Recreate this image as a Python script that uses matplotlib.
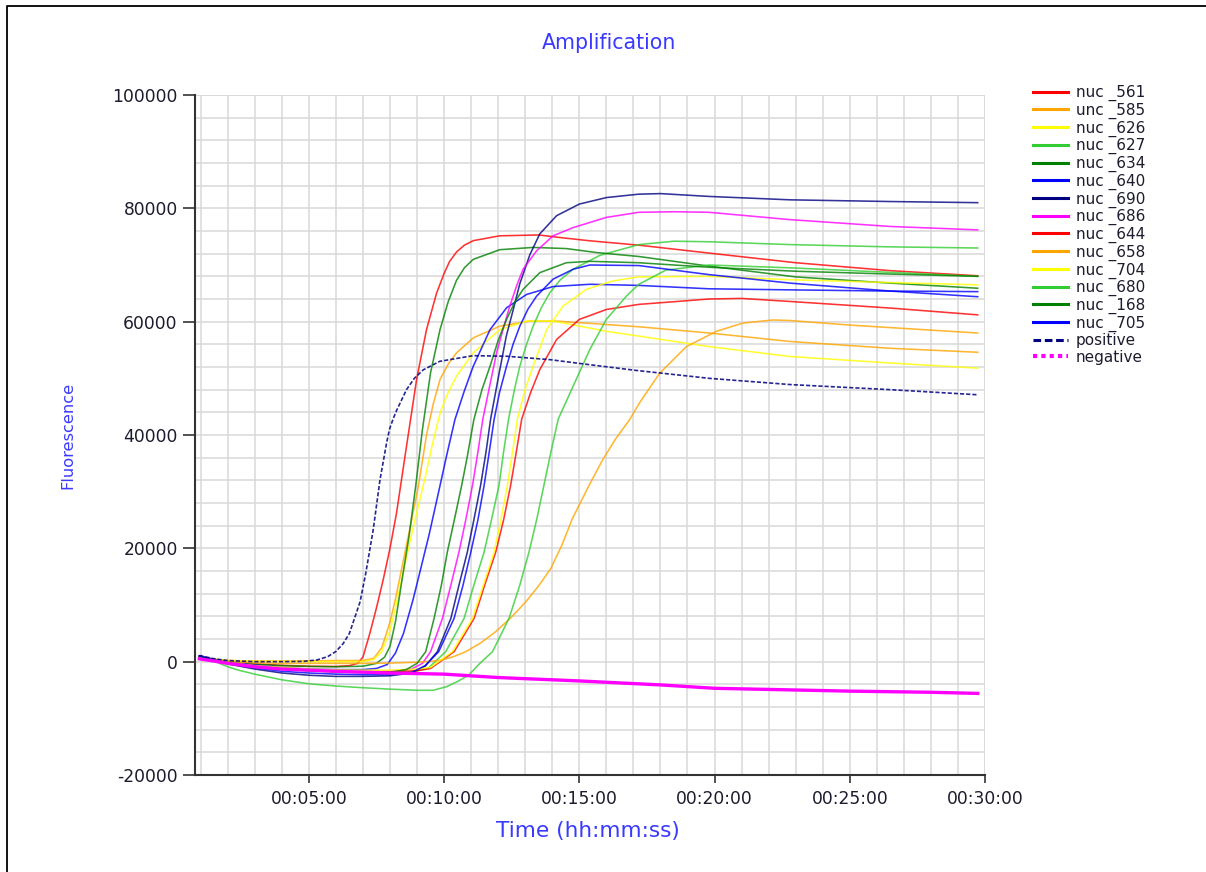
import matplotlib
matplotlib.use("Agg")
import matplotlib.pyplot as plt
from matplotlib.lines import Line2D
from matplotlib.ticker import MultipleLocator

plt.rcParams['font.family'] = ['DejaVu Sans']

# ---- data (time in minutes, fluorescence) ----
t_561 = [0.95, 1.5, 2, 3, 4, 5, 6, 6.5, 6.8, 7.0, 7.26, 7.5, 7.75, 8.0, 8.24, 8.61, 8.98, 9.35, 9.72, 10.0, 10.2, 10.46, 10.75, 11.08, 12.06, 13.5, 14.28, 15.39, 17.2, 19.8, 23.0, 26.5, 29.73]
v_561 = [900, 400, 50, -400, -650, -800, -850, -700, -300, 800, 5100, 9500, 14500, 20000, 26200, 38000, 49700, 58600, 65000, 68500, 70600, 72300, 73500, 74300, 75150, 75300, 74850, 74270, 73500, 72100, 70400, 69000, 68100]

t_585 = [0.95, 1.5, 2, 3, 4, 5, 6, 7, 7.4, 7.7, 8.0, 8.2, 8.5, 8.8, 9.05, 9.35, 9.6, 9.85, 10.15, 10.46, 11.08, 12.06, 13.17, 14.16, 15.39, 17.2, 19.8, 22.8, 26.5, 29.73]
v_585 = [800, 400, 200, 100, 100, 150, 200, 200, 600, 2500, 7000, 11000, 18000, 25000, 31000, 40000, 45500, 49800, 52500, 54500, 57150, 59200, 60100, 60100, 59700, 59100, 58000, 56500, 55300, 54600]

t_626 = [0.95, 1.5, 2, 3, 4, 5, 6, 7, 7.4, 7.7, 8.0, 8.2, 8.5, 8.8, 9.05, 9.3, 9.55, 9.85, 10.15, 10.46, 11.08, 12.06, 13.05, 14.03, 15.02, 16.0, 17.2, 19.8, 22.8, 26.5, 29.73]
v_626 = [800, 400, 200, 100, 50, 0, 0, 0, 400, 1800, 5500, 9500, 16000, 22500, 27500, 32500, 38000, 43900, 47500, 50400, 54500, 58600, 60100, 60100, 59200, 58300, 57450, 55600, 53850, 52700, 51800]

t_627 = [0.95, 1.5, 2, 3, 4, 5, 6, 7, 8, 8.8, 9.4, 10.06, 10.74, 11.1, 11.48, 11.75, 12.03, 12.2, 12.38, 12.6, 12.8, 13.05, 13.29, 13.6, 13.91, 14.3, 14.77, 15.76, 17.2, 18.5, 19.8, 22.8, 26.5, 29.73]
v_627 = [900, 300, -200, -900, -1300, -1600, -1800, -1950, -2000, -1800, -1200, 1760, 7640, 13500, 19350, 25000, 31100, 37000, 42700, 48000, 52150, 56000, 59200, 62500, 65100, 67400, 69250, 71700, 73600, 74200, 74100, 73600, 73200, 73000]

t_634 = [0.95, 1.5, 2, 3, 4, 5, 6, 7, 7.5, 7.8, 8.0, 8.2, 8.43, 8.7, 8.95, 9.2, 9.5, 9.85, 10.15, 10.46, 10.75, 11.08, 12.06, 13.29, 14.52, 15.63, 17.2, 19.8, 23.0, 26.5, 29.73]
v_634 = [900, 400, 0, -450, -700, -850, -900, -800, -300, 800, 2700, 7000, 14000, 22000, 31000, 41000, 51000, 58600, 63500, 67300, 69500, 71000, 72700, 73100, 72900, 72200, 71500, 69800, 67900, 66800, 65900]

t_640 = [0.95, 1.5, 2, 3, 4, 5, 6, 7, 7.5, 7.9, 8.2, 8.5, 8.85, 9.1, 9.45, 9.8, 10.1, 10.4, 10.75, 11.08, 11.7, 12.31, 13.05, 14.03, 15.39, 17.2, 19.8, 23.0, 26.5, 29.73]
v_640 = [1000, 400, 0, -600, -1000, -1300, -1400, -1400, -1200, -500, 1500, 5000, 10900, 15700, 22500, 30000, 36500, 42700, 47800, 52150, 58600, 62450, 64800, 66200, 66600, 66400, 65800, 65600, 65400, 65300]

t_690 = [0.95, 1.5, 2, 3, 4, 5, 6, 7, 8, 8.8, 9.3, 9.75, 10.25, 10.55, 10.86, 11.1, 11.35, 11.55, 11.72, 12.0, 12.3, 12.55, 12.8, 13.17, 13.54, 14.16, 15.0, 16.0, 17.2, 18.0, 19.8, 22.8, 26.5, 29.73]
v_690 = [1000, 300, -400, -1300, -2000, -2400, -2600, -2600, -2500, -2000, -800, 1760, 7640, 13500, 19350, 25000, 31100, 37000, 42800, 50000, 57450, 62000, 66700, 71800, 75500, 78700, 80750, 81900, 82500, 82600, 82100, 81500, 81200, 81000]

t_686 = [0.95, 1.5, 2, 3, 4, 5, 6, 7, 8, 8.8, 9.2, 9.5, 9.94, 10.25, 10.55, 10.8, 11.05, 11.25, 11.43, 11.7, 11.94, 12.2, 12.43, 12.68, 12.92, 13.42, 14.03, 14.77, 16.0, 17.2, 18.5, 19.8, 22.8, 26.5, 29.73]
v_686 = [900, 300, -200, -800, -1200, -1500, -1650, -1700, -1700, -1300, -300, 1760, 7640, 13500, 19350, 25000, 31100, 37000, 42750, 49000, 54500, 59000, 62750, 66300, 69250, 72500, 75150, 76600, 78400, 79300, 79400, 79300, 78000, 76800, 76200]

t_644 = [0.95, 1.5, 2, 3, 4, 5, 6, 7, 8, 9, 9.5, 10.37, 11.11, 11.5, 11.91, 12.2, 12.46, 12.67, 12.87, 13.2, 13.54, 14.16, 15.0, 16.0, 17.2, 19.8, 21.0, 23.0, 26.5, 29.73]
v_644 = [900, 300, -200, -800, -1200, -1500, -1700, -1800, -1800, -1600, -1200, 1760, 7640, 13500, 19350, 25000, 31100, 37000, 42800, 47500, 51550, 56850, 60400, 62150, 63050, 64000, 64100, 63500, 62400, 61200]

t_658 = [0.95, 1.5, 2, 3, 4, 5, 6, 7, 8, 9, 9.82, 10.3, 10.8, 11.35, 11.91, 12.5, 13.02, 13.5, 13.94, 14.35, 14.74, 15.36, 15.85, 16.34, 16.86, 17.23, 17.97, 18.96, 20.07, 21.05, 22.16, 22.8, 25.0, 26.84, 29.73]
v_658 = [800, 300, 0, -200, -300, -300, -300, -300, -250, -100, 200, 800, 1760, 3300, 5300, 7900, 10560, 13400, 16400, 20500, 25200, 31100, 35500, 39300, 42700, 45700, 50900, 55600, 58300, 59750, 60300, 60200, 59400, 58850, 58000]

t_704 = [0.95, 1.5, 2, 3, 4, 5, 6, 7, 8, 9, 9.5, 10.31, 11.05, 11.45, 11.85, 12.1, 12.34, 12.53, 12.71, 12.98, 13.29, 13.79, 14.4, 15.26, 16.25, 17.2, 19.8, 22.8, 26.5, 29.73]
v_704 = [900, 300, -200, -700, -1000, -1300, -1450, -1500, -1500, -1300, -1000, 1760, 7640, 13500, 19350, 25000, 31100, 37000, 42800, 47800, 52150, 58600, 62750, 65700, 67200, 67900, 68000, 67400, 66900, 66500]

t_680 = [0.95, 1.5, 2, 2.4, 3, 4, 5, 6, 7, 8, 9, 9.6, 10.1, 10.5, 10.92, 11.3, 11.79, 12.4, 12.8, 13.14, 13.42, 13.69, 13.95, 14.22, 14.77, 15.39, 16.0, 16.74, 17.2, 18.2, 19.8, 22.8, 26.5, 29.73]
v_680 = [900, 100, -900, -1500, -2200, -3200, -3900, -4300, -4600, -4850, -5050, -5050, -4400, -3500, -2340, -400, 1760, 7640, 13500, 19350, 25000, 31100, 37000, 42800, 48600, 55100, 60400, 64500, 66600, 69100, 70000, 69500, 68700, 68000]

t_168 = [0.95, 1.5, 2, 3, 4, 5, 6, 7, 8, 8.6, 9.0, 9.32, 9.63, 9.9, 10.12, 10.4, 10.65, 10.85, 11.1, 11.4, 11.7, 12.0, 12.31, 12.62, 12.92, 13.54, 14.52, 15.39, 17.2, 19.8, 23.0, 26.5, 29.73]
v_168 = [900, 300, -200, -900, -1300, -1600, -1800, -1900, -1900, -1400, -300, 1760, 7640, 13500, 19350, 25500, 31100, 36000, 42700, 48000, 52150, 56700, 60400, 63500, 65700, 68650, 70400, 70650, 70400, 69600, 68900, 68400, 68000]

t_705 = [0.95, 1.5, 2, 3, 4, 5, 6, 7, 8, 8.8, 9.3, 9.8, 10.37, 10.7, 10.99, 11.25, 11.48, 11.67, 11.85, 12.05, 12.31, 12.55, 12.8, 13.1, 13.42, 14.03, 14.77, 15.39, 17.2, 19.8, 22.8, 26.5, 29.73]
v_705 = [1000, 300, -300, -1100, -1700, -2000, -2200, -2300, -2300, -1900, -700, 1760, 7640, 13500, 19350, 25000, 31100, 37000, 42750, 47500, 52150, 56000, 59200, 62200, 64500, 67500, 69250, 70000, 69900, 68300, 66800, 65400, 64400]

t_pos = [0.95, 1.5, 2, 3, 4, 4.8, 5.3, 5.7, 6.0, 6.27, 6.5, 6.89, 7.1, 7.38, 7.63, 7.87, 7.98, 8.12, 8.25, 8.4, 8.61, 8.9, 9.23, 9.84, 11.07, 12.3, 13.91, 15.39, 17.1, 19.8, 22.8, 26.5, 29.73]
v_pos = [1100, 500, 200, 0, 0, 50, 300, 900, 1800, 3200, 5000, 10500, 15500, 23300, 32100, 38500, 41000, 42900, 44400, 45900, 48000, 50000, 51500, 53000, 54000, 53900, 53300, 52400, 51400, 50000, 48900, 48000, 47100]

t_neg = [0.95, 1.5, 2, 3, 4, 6, 8, 10, 12, 15, 18, 20, 22, 25, 28, 29.73]
v_neg = [500, 100, -300, -900, -1300, -1700, -2000, -2200, -2800, -3400, -4100, -4700, -4900, -5200, -5400, -5600]

labels = ["nuc _561", "unc _585", "nuc _626", "nuc _627", "nuc _634", "nuc _640",
          "nuc _690", "nuc _686", "nuc _644", "nuc _658", "nuc _704", "nuc _680",
          "nuc _168", "nuc _705", "positive", "negative"]
colors = ["#ff0000", "#ffa500", "#ffff00", "#32cd32", "#008000", "#0000ff",
          "#000080", "#ff00ff", "#ff0000", "#ffa500", "#ffff00", "#32cd32",
          "#008000", "#0000ff", "#000080", "#ff00ff"]
series_t = [t_561, t_585, t_626, t_627, t_634, t_640, t_690, t_686, t_644, t_658,
            t_704, t_680, t_168, t_705, t_pos, t_neg]
series_v = [v_561, v_585, v_626, v_627, v_634, v_640, v_690, v_686, v_644, v_658,
            v_704, v_680, v_168, v_705, v_pos, v_neg]

x_ticks = [5, 10, 15, 20, 25, 30]
y_ticks = [-20000, 0, 20000, 40000, 60000, 80000, 100000]

# ---- figure ----
W, H = 1206, 872
fig = plt.figure(figsize=(W / 100, H / 100), dpi=100)
ax = fig.add_axes([195 / W, 1 - 775 / H, 790 / W, 680 / H])

grid_c = "#d9d9d9"
ax.set_xlim(0.79, 30)
ax.set_ylim(-20000, 100000)
ax.xaxis.set_minor_locator(MultipleLocator(1))
ax.yaxis.set_minor_locator(MultipleLocator(4000))
ax.set_xticks(x_ticks)
ax.set_xticklabels(["00:%02d:00" % m for m in x_ticks])
ax.set_yticks(y_ticks)
ax.set_yticklabels([str(v) for v in y_ticks])
ax.grid(which="both", color=grid_c, linewidth=1.1)
ax.set_axisbelow(True)

for s in ["top", "right"]:
    ax.spines[s].set_visible(False)
for s in ["left", "bottom"]:
    ax.spines[s].set_color("#333333")
    ax.spines[s].set_linewidth(1.5)
ax.axhline(100000, color=grid_c, linewidth=1.1, zorder=0)
ax.axvline(30, color=grid_c, linewidth=1.1, zorder=0)

tick_c = "#1c1c2e"
ax.tick_params(axis="y", which="major", length=9, width=1.2, color="#333333",
               labelsize=12.3, labelcolor=tick_c, pad=3.5)
ax.tick_params(axis="x", which="major", length=6, width=1.2, color="#333333",
               labelsize=12.3, labelcolor=tick_c, pad=5)
ax.tick_params(which="minor", length=0)

for i, (tt, vv) in enumerate(zip(series_t, series_v)):
    if labels[i] == "positive":
        ax.plot(tt, vv, color=colors[i], lw=1.2, ls=(0, (2.5, 1.2)), alpha=0.85,
                zorder=3, solid_joinstyle="round")
    elif labels[i] == "negative":
        ax.plot(tt, vv, color=colors[i], lw=2.4, ls="-", zorder=4)
    else:
        ax.plot(tt, vv, color=colors[i], lw=1.15, alpha=0.8, zorder=3,
                solid_joinstyle="round")

handles = []
for i, lab in enumerate(labels):
    if lab == "positive":
        h = Line2D([], [], color=colors[i], lw=2.2, ls=(0, (2.5, 1.2)))
    elif lab == "negative":
        h = Line2D([], [], color=colors[i], lw=3.0, ls=(0, (1, 1)))
    else:
        h = Line2D([], [], color=colors[i], lw=2.2)
    handles.append(h)
leg = fig.legend(handles, labels, loc="upper left",
                 bbox_to_anchor=(1033 / W, 1 - 85 / H), frameon=False,
                 fontsize=11, handlelength=2.3, handletextpad=0.5,
                 labelspacing=0.1, borderpad=0, borderaxespad=0)
for txt in leg.get_texts():
    txt.set_color("#1c1c2e")

blue_txt = "#3a3aff"
fig.text(609 / W, 1 - 43 / H, "Amplification", color=blue_txt, fontsize=14.8,
         ha="center", va="center")
fig.text(588 / W, 1 - 831 / H, "Time (hh:mm:ss)", color=blue_txt, fontsize=15.6,
         ha="center", va="center")
fig.text(68 / W, 1 - 435 / H, "Fluorescence", color=blue_txt, fontsize=11.7,
         ha="center", va="center", rotation=90)

# outer frame (top and left edges)
fig.add_artist(Line2D([7 / W, 7 / W, 1.0], [0.0, 1 - 6 / H, 1 - 6 / H],
                      transform=fig.transFigure, color="black", lw=1.3))

fig.savefig("out.png", dpi=100)
